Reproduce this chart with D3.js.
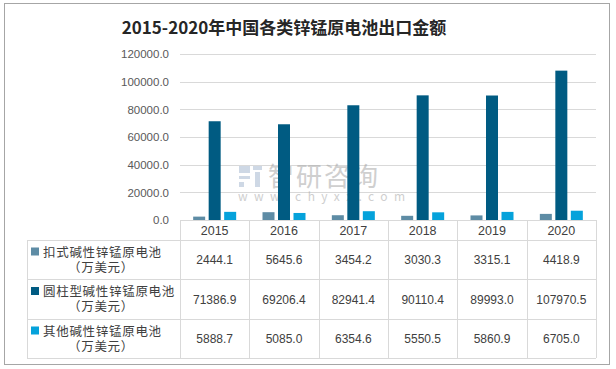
<!DOCTYPE html>
<html><head><meta charset="utf-8">
<script src="https://cdn.jsdelivr.net/npm/d3@7"></script>
<style>body{margin:0;background:#fff;} svg{display:block;font-family:"Noto Sans CJK SC","Noto Sans",sans-serif;}</style>
</head><body>
<script>
const years = ["2015","2016","2017","2018","2019","2020"];
const seriesNames = ["扣式碱性锌锰原电池", "圆柱型碱性锌锰原电池", "其他碱性锌锰原电池"];
const seriesUnit = "（万美元）";
const buttonVals = [2444.1, 5645.6, 3454.2, 3030.3, 3315.1, 4418.9];
const cylVals = [71386.9, 69206.4, 82941.4, 90110.4, 89993.0, 107970.5];
const otherVals = [5888.7, 5085.0, 6354.6, 5550.5, 5860.9, 6705.0];
const yTicks = [0, 20000, 40000, 60000, 80000, 100000, 120000];
const colors = ["#5E8CA5", "#005B82", "#05A2DB"];
const series = [buttonVals, cylVals, otherVals];

const W = 616, H = 369;
const svg = d3.select("body").append("svg").attr("width", W).attr("height", H);
svg.append("rect").attr("x",4.5).attr("y",3.5).attr("width",605).attr("height",361)
  .attr("fill","#fff").attr("stroke","#a6a6a6").attr("stroke-width",1);

svg.append("text").attr("x",284).attr("y",34).attr("text-anchor","middle")
  .attr("font-size",17).attr("font-weight","bold").attr("fill","#262626")
  .text("2015-2020年中国各类锌锰原电池出口金额");

const x = d3.scaleBand().domain(years).range([180, 596]);
const y = d3.scaleLinear().domain([0, 120000]).range([220, 54]);

// gridlines
svg.append("g").selectAll("line").data(yTicks.slice(1)).join("line")
  .attr("x1",180).attr("x2",596).attr("y1",d=>Math.round(y(d))+0.5).attr("y2",d=>Math.round(y(d))+0.5)
  .attr("stroke","#d9d9d9");

// y axis
const yAxis = d3.axisLeft(y).tickValues(yTicks).tickSize(0).tickPadding(11).tickFormat(d=>d3.format(".1f")(d));
const ga = svg.append("g").attr("transform","translate(180,0)").call(yAxis);
ga.select(".domain").remove();
ga.selectAll("text").attr("font-size",11.5).attr("fill","#595959").attr("font-family","Liberation Sans, Arial, sans-serif");

// watermark (behind bars)
const wm = svg.append("g").attr("opacity",0.5);
wm.append("rect").attr("x",239).attr("y",166).attr("width",11).attr("height",7).attr("fill","#9fb3cc");
wm.append("rect").attr("x",239).attr("y",176).attr("width",11).attr("height",3).attr("fill","#9fb3cc");
wm.append("rect").attr("x",239).attr("y",182).attr("width",5).attr("height",5).attr("fill","#9fb3cc");
wm.append("rect").attr("x",253).attr("y",166).attr("width",9).attr("height",4).attr("fill","#9fb3cc");
wm.append("rect").attr("x",255).attr("y",172).attr("width",5).attr("height",15).attr("fill","#9fb3cc");
wm.append("text").attr("x",268).attr("y",186).attr("font-size",26).attr("fill","#a0a0a0")
  .attr("letter-spacing",2).text("智研咨询");
wm.append("text").attr("x",238).attr("y",201).attr("font-size",12).attr("fill","#a0a0a0")
  .attr("letter-spacing",6.4).text("www.chyxx.com");

// bars
const bw = 12, gap = 3.5;
series.forEach((vals, i) => {
  svg.append("g").selectAll("rect").data(vals).join("rect")
    .attr("x",(d,j)=>x(years[j]) + x.bandwidth()/2 - (1.5*bw+gap) + i*(bw+gap))
    .attr("width",bw)
    .attr("y",d=>y(d)).attr("height",d=>y(0)-y(d))
    .attr("fill",colors[i]);
});

// table
const rowsY = [220, 240, 279, 319, 358];
const tl = 27, tr = 596;
const lc = "#d9d9d9";
const tg = svg.append("g");
tg.append("line").attr("x1",180).attr("x2",tr).attr("y1",220.5).attr("y2",220.5).attr("stroke",lc);
rowsY.slice(1).forEach(r => tg.append("line").attr("x1",tl).attr("x2",tr).attr("y1",r+0.5).attr("y2",r+0.5).attr("stroke",lc));
tg.append("line").attr("x1",tl+0.5).attr("x2",tl+0.5).attr("y1",240).attr("y2",358).attr("stroke",lc);
years.forEach(yr => tg.append("line").attr("x1",Math.round(x(yr))+0.5).attr("x2",Math.round(x(yr))+0.5).attr("y1",220).attr("y2",358).attr("stroke",lc));
tg.append("line").attr("x1",tr+0.5).attr("x2",tr+0.5).attr("y1",220).attr("y2",358).attr("stroke",lc);

tg.selectAll("text.yr").data(years).join("text").attr("class","yr")
  .attr("x",d=>x(d)+x.bandwidth()/2).attr("y",235).attr("text-anchor","middle")
  .attr("font-size",12.5).attr("fill","#404040").attr("font-family","Liberation Sans, Arial, sans-serif").text(d=>d);

series.forEach((vals,i) => {
  const top = rowsY[i+1], bot = rowsY[i+2], mid = (top+bot)/2;
  tg.append("rect").attr("x",31).attr("y",mid-12).attr("width",8).attr("height",8).attr("fill",colors[i]);
  tg.append("text").attr("x",43).attr("y",mid-3).attr("font-size",12.5).attr("fill","#404040")
    .attr("letter-spacing",0.7).text(seriesNames[i]);
  tg.append("text").attr("x",101).attr("y",mid+12).attr("text-anchor","middle").attr("font-size",12.5).attr("fill","#404040")
    .attr("letter-spacing",0.7).text(seriesUnit);
  tg.selectAll(null).data(vals).join("text")
    .attr("x",(d,j)=>x(years[j])+x.bandwidth()/2).attr("y",mid+4.5).attr("text-anchor","middle")
    .attr("font-size",12).attr("fill","#404040").attr("font-family","Liberation Sans, Arial, sans-serif")
    .text(d=>d3.format(".1f")(d));
});
</script>
</body></html>
